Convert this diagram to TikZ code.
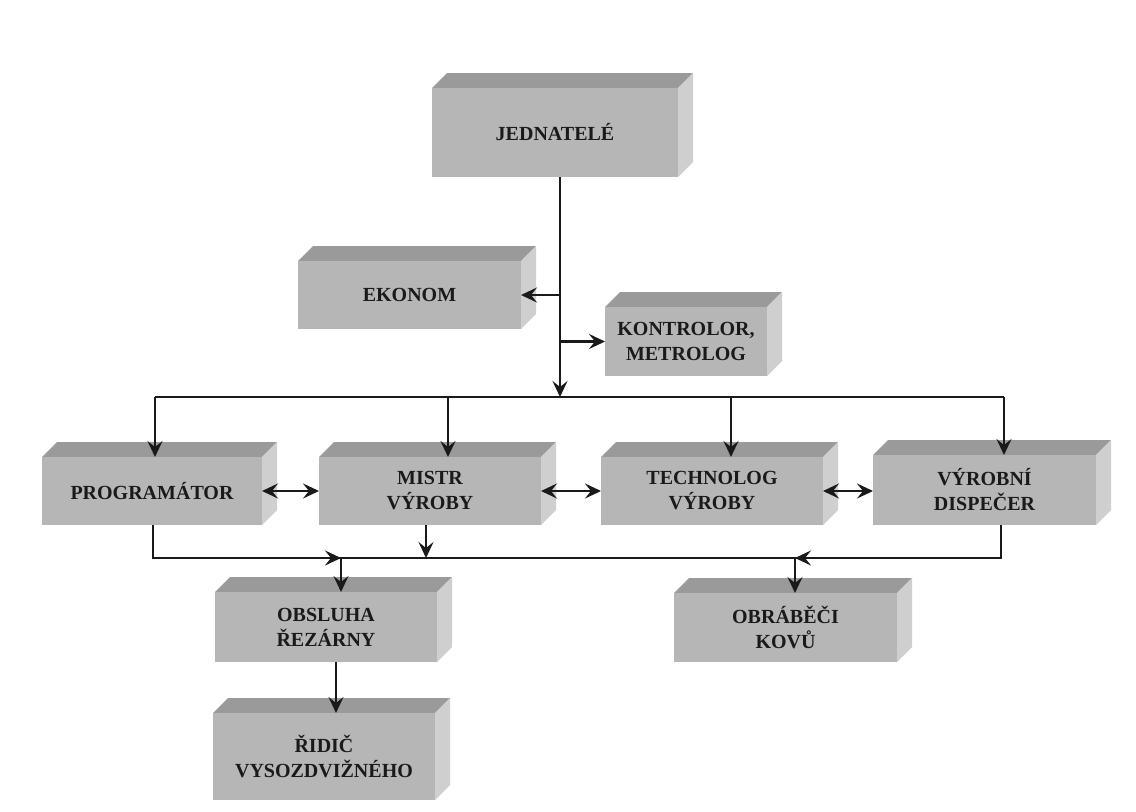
\documentclass[tikz,border=0pt]{standalone}
\usepackage{fontspec}
\setmainfont{Liberation Serif}
\usetikzlibrary{arrows.meta,calc}
\definecolor{frontc}{HTML}{B6B6B6}
\definecolor{topc}{HTML}{9A9A9A}
\definecolor{sidec}{HTML}{CFCFCF}
\definecolor{inkc}{HTML}{1A1A1A}
\tikzset{
  orgnode/.style={fill=frontc, inner sep=0pt, outer sep=0pt, align=center,
    font=\fontsize{10}{12.5}\selectfont\bfseries, text=inkc},
  conn/.style={draw=inkc, line width=1.2pt},
  tip/.tip={Stealth[length=8pt,width=7.5pt,inset=3pt]},
  arr/.style={conn, -tip},
  darr/.style={conn, tip-tip}
}
% #1 name, #2 x1, #3 y1 (front top), #4 x2, #5 y2 (front bottom), #6 text
\newcommand{\orgbox}[6]{%
  \fill[topc] (#2,#3) -- ({#2+15},{#3-15}) -- ({#4+15},{#3-15}) -- (#4,#3) -- cycle;
  \fill[sidec] (#4,#3) -- ({#4+15},{#3-15}) -- ({#4+15},{#5-15}) -- (#4,#5) -- cycle;
  \node[orgnode, minimum width={(#4-#2)*0.5pt}, minimum height={(#5-#3)*0.5pt}] (#1) at ({(#2+#4)/2},{(#3+#5)/2}) {#6};
}
\begin{document}
\begin{tikzpicture}[x=0.5pt,y=-0.5pt]
\useasboundingbox (0,0) rectangle (1136,811);

\orgbox{jed}{432}{88}{678}{177}{JEDNATELÉ}
\orgbox{eko}{298}{261}{521}{329}{EKONOM}
\orgbox{kon}{605}{307}{767}{376}{KONTROLOR,\\METROLOG}
\orgbox{pro}{42}{457}{262}{525}{PROGRAMÁTOR}
\orgbox{mis}{319}{457}{541}{525}{MISTR\\VÝROBY}
\orgbox{tec}{601}{457}{823}{525}{TECHNOLOG\\VÝROBY}
\orgbox{dis}{873}{455}{1096}{525}{VÝROBNÍ\\DISPEČER}
\orgbox{obs}{215}{592}{437}{662}{OBSLUHA\\ŘEZÁRNY}
\orgbox{obr}{674}{593}{897}{662}{OBRÁBĚČI\\KOVŮ}
\orgbox{rid}{213}{713}{435}{800}{ŘIDIČ\\VYSOZDVIŽNÉHO}

% top bus
\coordinate (c1) at (560,397);
\coordinate (b1l) at (155,397);
\coordinate (b1r) at (1004,397);
\coordinate (xm) at (448,397);
\coordinate (xt) at (731,397);
\draw[arr] (jed.south -| c1) -- (c1);
\draw[arr] (c1 |- eko.east) -- (eko.east);
\draw[arr] (c1 |- kon.west) -- (kon.west);
\draw[conn] (b1l) -- (b1r);
\draw[arr] (b1l) -- (pro.north -| b1l);
\draw[arr] (xm) -- (mis.north -| xm);
\draw[arr] (xt) -- (tec.north -| xt);
\draw[arr] (b1r) -- (dis.north -| b1r);

% horizontal links
\draw[darr] (pro.east) -- (mis.west);
\draw[darr] (mis.east) -- (tec.west);
\draw[darr] (tec.east) -- (tec.east -| dis.west);

% bottom bus
\coordinate (b2l) at (153,558);
\coordinate (b2r) at (1001,558);
\coordinate (k1) at (341,558);
\coordinate (k2) at (795,558);
\coordinate (xm2) at (426,558);
\coordinate (xr) at (336,0);
\draw[conn] (b2l) -- (b2r);
\draw[arr] (pro.south -| b2l) -- (b2l) -- (k1);
\draw[arr] (dis.south -| b2r) -- (b2r) -- (k2);
\draw[arr] (mis.south -| xm2) -- (xm2);
\draw[arr] (k1) -- (obs.north -| k1);
\draw[arr] (k2) -- (obr.north -| k2);
\draw[arr] (obs.south -| xr) -- (rid.north -| xr);
\end{tikzpicture}
\end{document}
